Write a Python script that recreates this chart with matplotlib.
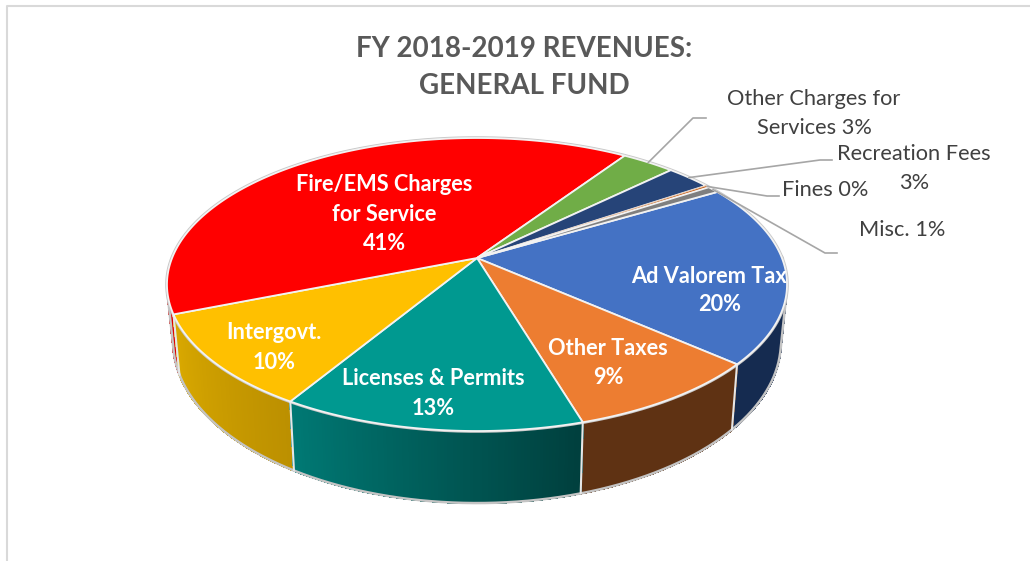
"""
FY 2018-2019 general fund revenues as a tilted 3D pie.
matplotlib has no real 3D pie, so the slices are projected by hand onto an
axes that runs in pixel units.
"""

import numpy as np
import matplotlib.pyplot as plt
from matplotlib.collections import PolyCollection

plt.rcParams["font.family"] = ["Lato", "DejaVu Sans"]

# clockwise from the start angle
categories = ["Ad Valorem Tax", "Other Taxes", "Licenses & Permits", "Intergovt.",
              "Fire/EMS Charges for Service", "Other Charges for Services",
              "Recreation Fees", "Fines", "Misc."]
values = [20.0, 8.9, 13.3, 10.3, 40.5, 3.3, 2.8, 0.25, 0.75]

TOP_COLORS = ["#4472C4", "#ED7D31", "#009990", "#FFC000", "#FF0000",
              "#70AD47", "#264478", "#C55A11", "#7F7F7F"]
WALL_LEFT = ["#152B50", "#5F3213", "#007A75", "#DBAA00", "#E00000",
             "#4A7A30", "#152B50", "#7F3A0B", "#555555"]
WALL_RIGHT = ["#152B50", "#5F3213", "#003F3D", "#BC9000", "#E00000",
              "#4A7A30", "#152B50", "#7F3A0B", "#555555"]

START_ANGLE = 30.6
CX = 477.0
PERSPECTIVE = 0.181
TOP_PLANE = dict(y0=258.0, ax=304.9, by=141.7)
BOTTOM_PLANE = dict(y0=312.6, ax=298.9, by=156.0)


def project(theta_deg, plane):
    """Circle angle to pixel position on one of the two pie faces."""
    t = np.radians(theta_deg)
    w = 1 + PERSPECTIVE * np.sin(t)
    return CX + plane["ax"] * np.cos(t) / w, plane["y0"] - plane["by"] * np.sin(t) / w


def hex_rgb(c):
    return np.array([int(c[i:i + 2], 16) / 255 for i in (1, 3, 5)])


def silhouette_angles():
    """Angles where the wall edge runs tangent to the bottom rim."""
    th = np.linspace(-270, 90, 3601)
    tx, ty = project(th, TOP_PLANE)
    bx, by = project(th, BOTTOM_PLANE)
    cross = (bx - tx) * np.gradient(by) - (by - ty) * np.gradient(bx)
    flips = th[:-1][np.sign(cross[:-1]) != np.sign(cross[1:])]
    return flips.min(), flips.max()


fig = plt.figure(figsize=(10.30, 5.61), dpi=100, facecolor="white")
ax = fig.add_axes([0, 0, 1, 1])
ax.set_xlim(0, 1030)
ax.set_ylim(561, 0)
ax.axis("off")

# chart frame, only left and top show in the crop
ax.plot([6.5, 6.5, 1030], [561, 5.5, 5.5], color="#D9D9D9", lw=1.5)

spans = np.array(values) / sum(values) * 360
ends = START_ANGLE - np.cumsum(spans)
starts = ends + spans

# side wall, far quads first, back of the pie is hidden so skip it
sil_left, sil_right = silhouette_angles()
quads, quad_colors, quad_y = [], [], []
for i in range(len(values)):
    steps = np.linspace(starts[i], ends[i], max(int(spans[i] * 2), 2) + 1)
    left, right = hex_rgb(WALL_LEFT[i]), hex_rgb(WALL_RIGHT[i])
    for a, b in zip(steps[:-1], steps[1:]):
        mid = np.sin(np.radians((a + b) / 2))
        if mid > np.sin(np.radians(sil_right)) + 0.02:
            continue
        xt = project(np.array([a, b]), TOP_PLANE)
        xb = project(np.array([b, a]), BOTTOM_PLANE)
        quads.append(list(zip(np.r_[xt[0], xb[0]], np.r_[xt[1], xb[1]])))
        # gradient runs left to right on screen, clockwise front walls go right to left
        f = (a - steps[0]) / (steps[-1] - steps[0])
        quad_colors.append(right * (1 - f) + left * f)
        quad_y.append(mid)
order = np.argsort(quad_y)[::-1]
ax.add_collection(PolyCollection([quads[k] for k in order],
                                 facecolors=[quad_colors[k] for k in order],
                                 edgecolors=[quad_colors[k] for k in order],
                                 linewidths=1.0, antialiaseds=False, zorder=2))

# soft grey edge round the whole body
ring = np.linspace(0, 360, 721)
ax.plot(*project(ring, TOP_PLANE), color="#C8C8C8", lw=2.6, zorder=3)
front = np.linspace(sil_left, sil_right, 361)
fx, fy = project(front, BOTTOM_PLANE)
lx, ly = project(sil_left, TOP_PLANE)
rx, ry = project(sil_right, TOP_PLANE)
ax.plot(np.r_[lx, fx, rx], np.r_[ly, fy, ry], color="#C4C4C4", lw=1.8, zorder=3)

# white seams between the front walls
for a in starts:
    if np.sin(np.radians(a)) < 0:
        xt, yt = project(a, TOP_PLANE)
        xb, yb = project(a, BOTTOM_PLANE)
        ax.plot([xt, xb], [yt, yb], color="#E6E6E6", lw=1.5, zorder=3)

# top face
for i in range(len(values)):
    arc = np.linspace(starts[i], ends[i], max(int(spans[i] * 2), 2) + 1)
    xs, ys = project(arc, TOP_PLANE)
    edge = "#E8CDB8" if categories[i] == "Fines" else "#F2F2F2"
    ax.fill(np.r_[CX, xs], np.r_[TOP_PLANE["y0"], ys], facecolor=TOP_COLORS[i],
            edgecolor=edge, lw=1.3 if spans[i] > 2 else 0.7, joinstyle="round", zorder=4)

# leader lines, from the rim at mid slice out to the elbow and stub
mids = (starts + ends) / 2
LEADERS = {
    "Other Charges for Services": ((693, 118), (706, 118)),
    "Recreation Fees": ((820, 160), (832, 160)),
    "Fines": ((767, 196), (779, 196)),
    "Misc.": ((825, 253), (837, 253)),
}
for name, (elbow, stub) in LEADERS.items():
    px, py = project(mids[categories.index(name)], TOP_PLANE)
    ax.plot([px, elbow[0], stub[0]], [py, elbow[1], stub[1]], color="#A6A6A6", lw=1.2, zorder=5)

# title
for line, y in (("FY 2018-2019 REVENUES:", 49), ("GENERAL FUND", 86)):
    ax.text(524, y, line, color="#595959", fontsize=20, fontweight="bold",
            ha="center", va="center", zorder=6)

# labels on the slices
INSIDE = [
    ("Fire/EMS Charges", 384, 184), ("for Service", 384, 214), ("41%", 384, 243),
    ("Intergovt.", 274, 332), ("10%", 274, 362),
    ("Licenses & Permits", 433, 378), ("13%", 433, 408),
    ("Other Taxes", 608, 348), ("9%", 608, 377),
    ("Ad Valorem Tax", 709, 276), ("20%", 720, 304),
]
for line, x, y in INSIDE:
    ax.text(x, y, line, color="white", fontsize=15.7, fontweight="bold",
            ha="center", va="center", zorder=6)

# labels outside the pie
OUTSIDE = [
    ("Other Charges for", 814, 99), ("Services 3%", 814, 128),
    ("Recreation Fees", 914, 154), ("3%", 914, 183),
    ("Fines 0%", 825, 190), ("Misc. 1%", 902, 230),
]
for line, x, y in OUTSIDE:
    ax.text(x, y, line, color="#404040", fontsize=15.7, ha="center", va="center", zorder=6)

fig.savefig("out.png", dpi=100, facecolor="white")
